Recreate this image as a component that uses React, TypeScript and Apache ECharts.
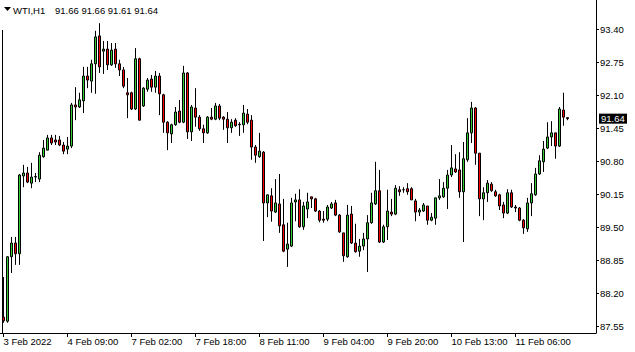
import React, { useEffect, useRef } from "react";
import * as echarts from "echarts";

const symbol = "WTI,H1";

const opens = [
  87.73, 87.65, 88.92, 89.19, 88.98, 90.51, 90.57, 90.37, 90.49, 90.45,
  90.89, 91.02, 91.26, 91.22, 91.22, 91.12, 91.04, 91.10, 91.91, 91.87,
  91.99, 92.48, 92.38, 92.72, 93.27, 92.97, 93.01, 92.70, 93.01, 92.72,
  92.60, 92.15, 92.15, 91.83, 92.82, 91.89, 92.22, 92.42, 92.26, 92.48,
  92.11, 91.57, 91.34, 91.52, 91.79, 91.57, 92.54, 91.38, 91.85, 91.67,
  91.44, 91.36, 91.67, 91.63, 91.89, 91.67, 91.63, 91.46, 91.61, 91.53,
  91.52, 91.73, 91.61, 91.08, 90.89, 90.98, 89.98, 90.12, 89.80, 89.96,
  89.55, 89.07, 89.13, 90.00, 90.04, 89.51, 89.86, 90.10, 90.06, 89.82,
  89.66, 89.66, 89.88, 89.98, 89.74, 89.39, 88.92, 89.76, 89.19, 89.03,
  89.13, 89.27, 89.59, 89.96, 90.22, 89.21, 89.51, 89.80, 89.76, 90.24,
  90.24, 90.26, 90.26, 90.02, 89.80, 89.82, 89.92, 89.64, 89.68, 90.08,
  90.10, 90.27, 90.53, 90.65, 90.63, 90.20, 90.83, 91.36, 91.85, 90.96,
  90.06, 90.18, 90.35, 90.20, 90.14, 89.94, 89.78, 90.18, 89.90, 89.88,
  89.64, 89.47, 89.98, 90.14, 90.55, 90.79, 91.06, 91.28, 91.36, 91.10,
  91.81, 91.66,
];

const closes = [
  87.66, 88.92, 89.19, 88.98, 90.53, 90.57, 90.39, 90.49, 90.50, 90.92,
  91.06, 91.26, 91.16, 91.18, 91.12, 91.00, 91.10, 91.91, 91.87, 92.01,
  92.48, 92.40, 92.72, 93.25, 92.66, 93.01, 92.70, 92.99, 92.72, 92.60,
  92.28, 92.11, 91.83, 92.82, 91.61, 92.24, 92.40, 92.26, 92.48, 92.13,
  91.57, 91.36, 91.52, 91.77, 91.57, 92.54, 91.38, 91.87, 91.67, 91.44,
  91.36, 91.67, 91.63, 91.89, 91.65, 91.63, 91.46, 91.57, 91.50, 91.52,
  91.75, 91.57, 91.08, 90.92, 91.00, 89.98, 90.14, 89.82, 89.98, 89.53,
  89.03, 89.17, 89.98, 90.04, 89.51, 89.92, 90.00, 90.06, 89.82, 89.64,
  89.64, 89.90, 89.96, 89.74, 89.41, 88.94, 89.74, 89.19, 89.02, 89.13,
  89.27, 89.59, 89.98, 90.22, 89.21, 89.51, 89.82, 89.76, 90.27, 90.20,
  90.24, 90.20, 90.04, 89.80, 89.84, 89.94, 89.64, 89.70, 90.08, 90.12,
  90.27, 90.53, 90.67, 90.59, 90.20, 90.85, 91.36, 91.85, 90.96, 90.06,
  90.18, 90.37, 90.22, 90.12, 89.92, 89.78, 90.18, 89.90, 89.88, 89.64,
  89.49, 89.98, 90.16, 90.55, 90.81, 91.04, 91.28, 91.36, 91.10, 91.83,
  91.67, 91.64,
];

const lows = [
  87.62, 87.62, 88.60, 88.76, 88.76, 90.29, 90.37, 90.27, 90.39, 90.39,
  90.87, 91.02, 91.12, 91.12, 91.10, 90.94, 90.94, 91.06, 91.61, 91.85,
  91.75, 92.24, 92.15, 92.13, 92.54, 92.52, 92.60, 92.68, 92.64, 92.48,
  92.24, 91.65, 91.81, 91.81, 91.61, 91.87, 92.17, 92.17, 92.15, 91.71,
  91.36, 91.02, 91.16, 91.50, 91.55, 91.55, 91.24, 91.20, 91.48, 91.40,
  91.16, 91.34, 91.61, 91.61, 91.61, 91.42, 91.16, 91.36, 91.48, 91.30,
  91.36, 91.53, 90.83, 90.77, 90.87, 89.23, 89.70, 89.61, 89.78, 89.39,
  89.01, 88.72, 89.11, 89.62, 89.49, 89.45, 89.68, 89.88, 89.80, 89.60,
  89.59, 89.62, 89.86, 89.72, 89.39, 88.82, 88.90, 89.17, 89.00, 88.92,
  89.05, 88.62, 89.57, 89.94, 89.19, 89.19, 89.25, 89.72, 89.74, 90.12,
  90.18, 90.14, 90.04, 89.62, 89.72, 89.80, 89.55, 89.62, 89.55, 90.04,
  90.08, 89.86, 90.49, 90.57, 90.08, 89.21, 90.79, 91.16, 90.73, 89.72,
  89.64, 90.00, 90.20, 90.10, 89.84, 89.68, 89.76, 89.88, 89.80, 89.62,
  89.37, 89.41, 89.72, 90.12, 90.53, 90.59, 91.04, 91.10, 90.85, 91.08,
  91.50, 91.61,
];

const highs = [
  88.52, 88.93, 89.31, 89.31, 90.55, 90.73, 90.69, 90.77, 90.57, 90.98,
  91.22, 91.32, 91.32, 91.32, 91.30, 91.18, 91.28, 91.95, 92.26, 92.15,
  92.66, 92.66, 92.80, 93.37, 93.52, 93.17, 93.17, 93.13, 93.13, 92.80,
  92.66, 92.44, 92.17, 93.03, 92.84, 92.26, 92.44, 92.50, 92.58, 92.54,
  92.13, 91.59, 91.54, 91.87, 92.01, 92.68, 92.56, 91.91, 92.24, 91.71,
  91.52, 91.69, 91.85, 91.95, 91.93, 91.69, 91.77, 91.63, 91.65, 91.57,
  91.91, 91.83, 91.71, 91.12, 91.36, 91.00, 90.14, 90.27, 90.45, 90.55,
  90.06, 89.59, 90.08, 90.16, 90.25, 90.00, 90.18, 90.10, 90.08, 89.84,
  89.82, 89.94, 90.00, 90.04, 89.76, 89.39, 89.94, 89.92, 89.57, 89.27,
  89.39, 89.74, 90.18, 90.79, 90.63, 89.55, 90.24, 90.06, 90.33, 90.31,
  90.29, 90.37, 90.29, 90.06, 89.88, 89.98, 89.92, 89.78, 90.08, 90.45,
  90.39, 90.63, 91.12, 90.94, 90.98, 91.18, 91.65, 91.97, 91.87, 90.96,
  90.29, 90.43, 90.39, 90.24, 90.16, 90.00, 90.25, 90.24, 89.94, 89.90,
  89.66, 90.08, 90.37, 90.67, 90.92, 91.20, 91.57, 91.59, 91.36, 91.87,
  92.15, 91.66,
];

const barIndex = opens.map((_, i) => i);
const xTickIdx = [0, 16, 32, 48, 64, 80, 96, 112, 128];
const xTickLabels = [
  "3 Feb 2022",
  "4 Feb 09:00",
  "7 Feb 02:00",
  "7 Feb 18:00",
  "8 Feb 11:00",
  "9 Feb 04:00",
  "9 Feb 20:00",
  "10 Feb 13:00",
  "11 Feb 06:00",
];
const yTicks = [87.55, 88.2, 88.85, 89.5, 90.15, 90.8, 91.45, 92.1, 92.75, 93.4];

const FONT = "Liberation Sans";
const FS = 9.5;

export default function App() {
  const ref = useRef<HTMLDivElement>(null);

  useEffect(() => {
    const chart = echarts.init(ref.current!, null, { renderer: "svg" });
    const n = opens.length - 1;
    const data = opens.map((o, i) => [barIndex[i], o, closes[i], lows[i], highs[i]]);

    chart.setOption({
      animation: false,
      backgroundColor: "#ffffff",
      grid: { left: 0, top: 0, width: 596, height: 333 },
      xAxis: {
        type: "value",
        min: -0.875,
        max: 148.125,
        axisLine: { show: true, onZero: false, lineStyle: { color: "#000", width: 1 } },
        axisTick: { show: true, customValues: xTickIdx, length: 4, lineStyle: { color: "#000" } },
        axisLabel: {
          customValues: xTickIdx,
          formatter: (v: number) => {
            const k = xTickIdx.indexOf(Math.round(v));
            return k >= 0 ? xTickLabels[k] : "";
          },
          align: "left",
          margin: 3,
          color: "#000",
          fontFamily: FONT,
          fontSize: FS,
        },
        splitLine: { show: false },
      },
      yAxis: {
        type: "value",
        position: "right",
        min: 87.418,
        max: 93.977,
        axisLine: { show: true, onZero: false, lineStyle: { color: "#000", width: 1 } },
        axisTick: { show: true, customValues: yTicks, length: 3, lineStyle: { color: "#000" } },
        axisLabel: {
          customValues: yTicks,
          formatter: (v: number) => v.toFixed(2),
          margin: 4,
          color: "#000",
          fontFamily: FONT,
          fontSize: FS,
        },
        splitLine: { show: false },
      },
      series: [
        {
          type: "candlestick",
          data,
          barWidth: 2,
          itemStyle: {
            color: "#32cd32",
            color0: "#ff0000",
            borderColor: "#000",
            borderColor0: "#000",
            borderColorDoji: "#000",
            borderWidth: 1,
          },
        },
      ],
    });

    const py = chart.convertToPixel({ yAxisIndex: 0 }, closes[n]) as number;
    const ohlc = [opens[n], highs[n], lows[n], closes[n]].map((v) => v.toFixed(2)).join(" ");

    chart.setOption({
      graphic: [
        {
          type: "line",
          shape: { x1: 2.5, y1: 30, x2: 2.5, y2: 333 },
          style: { stroke: "#000", lineWidth: 1 },
        },
        {
          type: "polygon",
          shape: { points: [[4, 7], [11, 7], [7.5, 11]] },
          style: { fill: "#000" },
        },
        {
          type: "text",
          x: 13,
          y: 10,
          style: { text: symbol, fill: "#000", font: `${FS}px "${FONT}"`, verticalAlign: "middle" },
        },
        {
          type: "text",
          x: 55,
          y: 10,
          style: { text: ohlc, fill: "#000", font: `${FS}px "${FONT}"`, verticalAlign: "middle" },
        },
        {
          type: "rect",
          shape: { x: 599, y: py - 5, width: 28, height: 10 },
          style: { fill: "#000" },
        },
        {
          type: "text",
          x: 601,
          y: py,
          style: {
            text: closes[n].toFixed(2),
            fill: "#fff",
            font: `${FS}px "${FONT}"`,
            verticalAlign: "middle",
          },
        },
      ],
    });

    return () => chart.dispose();
  }, []);

  return (
    <div
      ref={ref}
      style={{ position: "fixed", left: 0, top: 0, width: 635, height: 352, background: "#fff" }}
    />
  );
}
